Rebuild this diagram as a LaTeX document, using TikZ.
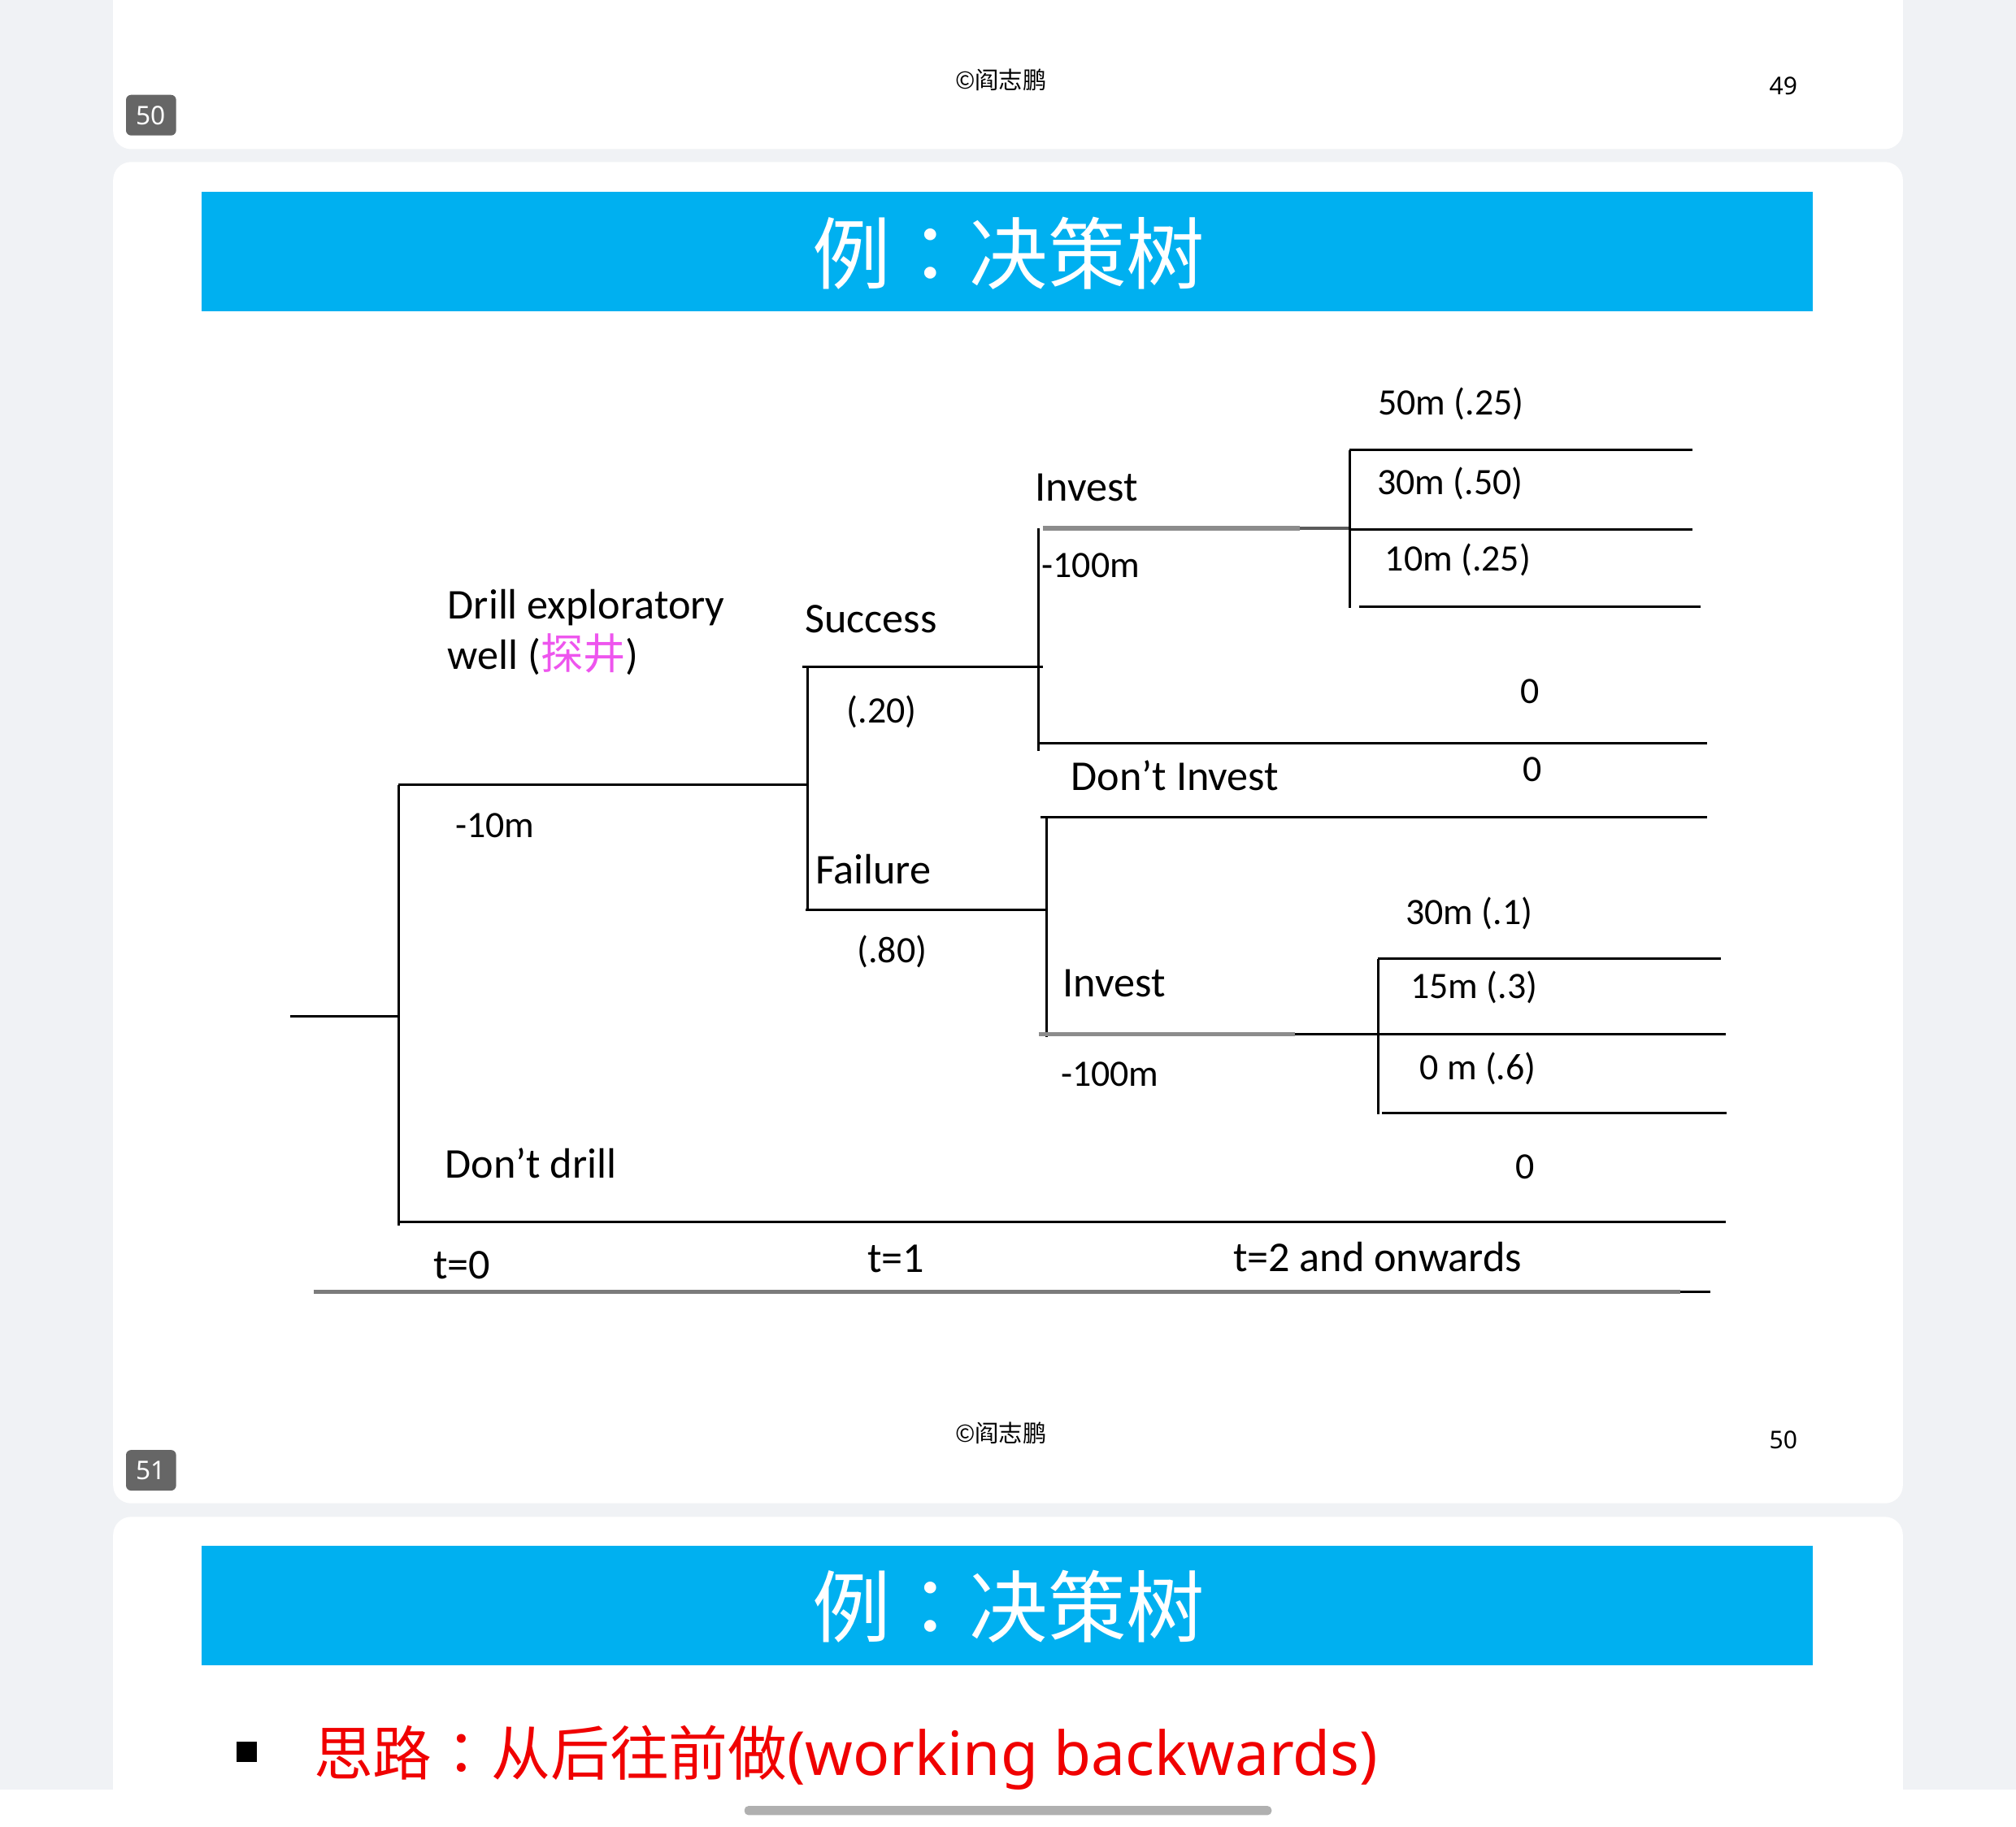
\documentclass[tikz,border=0pt]{standalone}
\usepackage{fontspec}
\setmainfont{Carlito}
\newfontfamily\cjk{Noto Sans CJK SC}
\newfontfamily\cjktc{Noto Sans CJK TC}
\newfontfamily\nsans{Noto Sans}
\definecolor{bg}{HTML}{F0F2F5}
\definecolor{titleblue}{HTML}{00B0F0}
\definecolor{badgegray}{HTML}{666666}
\definecolor{pinkcn}{HTML}{EE55EE}
\definecolor{grayline}{HTML}{8C8C8C}
\definecolor{darkseg}{HTML}{5A5A5A}
\definecolor{handlegray}{HTML}{B0B0B0}
\definecolor{redtext}{HTML}{F00000}
\newcommand{\cencolon}{\makebox[1em][c]{\cjktc ：}}
\begin{document}
\begin{tikzpicture}[x=1pt,y=-1pt,
  lbl/.style={inner sep=0pt, anchor=base west, font=\fontsize{33}{39}\selectfont},
  num/.style={inner sep=0pt, anchor=base west, font=\fontsize{29}{34}\selectfont},
  zero/.style={inner sep=0pt, anchor=base, font=\fontsize{29}{34}\selectfont},
  branch/.style={line width=1.9pt, black},
  grayseg/.style={line width=3.6pt, grayline},
  darkpart/.style={line width=2.6pt, darkseg},
  card/.style={fill=white, rounded corners=14pt},
  titlebar/.style={fill=titleblue},
  titletext/.style={text=white, inner sep=0pt, font=\cjk\fontsize{61}{70}\selectfont},
  footer/.style={inner sep=0pt, font=\cjk\fontsize{18.5}{20}\selectfont},
  pagenum/.style={inner sep=0pt, font=\nsans\fontsize{19}{21}\selectfont},
  badge/.style={fill=badgegray, rounded corners=4pt, minimum width=39pt, minimum height=31.6pt, inner sep=0pt, text=white, font=\nsans\fontsize{20}{22}\selectfont}]
\useasboundingbox (0,0) rectangle (1568,1421);
\fill[bg] (0,0) rectangle (1568,1421);
% cards
\fill[card] (88,-30) rectangle (1480,116);
\fill[card] (88,126) rectangle (1480,1169.5);
\fill[card] (88,1180) rectangle (1480,1460);
% card 1 footer
\node[footer] (foot1) at (778.5,62) {©阎志鹏};
\node[pagenum] (pn49) at (1387,67) {49};
\node[badge] (b50) at (117.5,89.6) {50};
% card 2 title
\fill[titlebar] (157,149.2) rectangle (1410,242);
\node[titletext] (title1) at (784.5,197) {例\cencolon 决策树};
% card 2 footer
\node[footer] (foot2) at (778.5,1115) {©阎志鹏};
\node[pagenum] (pn50) at (1387,1120.5) {50};
\node[badge] (b51) at (117.5,1143.8) {51};
% card 3
\fill[titlebar] (157,1202.6) rectangle (1410,1295.4);
\node[titletext] (title2) at (784.5,1250) {例\cencolon 决策树};
\fill[black] (184,1355) rectangle (200,1370.5);
\node[inner sep=0pt, anchor=base west, text=redtext, font=\fontsize{46}{50}\selectfont] (idea) at (244,1381) {\cjk 思路\cencolon 从后往前做{\nsans\fontsize{47.3}{50}\selectfont(working backwards)}};
% bottom bar
\fill[white] (0,1392) rectangle (1568,1421);
\fill[handlegray, rounded corners=3pt] (579,1405) rectangle (989,1412);

% ---------- tree coordinates ----------
\coordinate (r0) at (226,790.8);
\coordinate (r1) at (310,790.8);
\coordinate (a1) at (310,610.5);
\coordinate (a2) at (310,953.5);
\coordinate (a3) at (628.3,610.5);
\coordinate (dd0) at (310,950.7);
\coordinate (dd1) at (1342,950.7);
\coordinate (c1) at (628.3,518.7);
\coordinate (c2) at (628.3,707.5);
\coordinate (s0) at (624,518.7);
\coordinate (s1) at (811,518.7);
\coordinate (f0) at (626.5,707.5);
\coordinate (f1) at (813.8,707.5);
\coordinate (d1t) at (807.8,411);
\coordinate (d1b) at (807.8,584);
\coordinate (i1a) at (811,411);
\coordinate (i1b) at (1011,411);
\coordinate (i1c) at (1050,411);
\coordinate (n1a) at (808,578.3);
\coordinate (n1b) at (1328,578.3);
\coordinate (e1t) at (1049.8,350);
\coordinate (e1b) at (1049.8,473);
\coordinate (o1b) at (1316.4,350);
\coordinate (o2a) at (1049.8,412);
\coordinate (o2b) at (1316.4,412);
\coordinate (o3a) at (1057,472);
\coordinate (o3b) at (1322.5,472);
\coordinate (d2t) at (813.8,636);
\coordinate (d2b) at (813.8,807);
\coordinate (n2a) at (809.5,636);
\coordinate (n2b) at (1328,636);
\coordinate (i2a) at (808,804.5);
\coordinate (i2b) at (1007,804.5);
\coordinate (i2c) at (1071.7,804.5);
\coordinate (e2t) at (1071.7,746);
\coordinate (e2b) at (1071.7,867);
\coordinate (p1b) at (1338.4,746);
\coordinate (p2b) at (1342,804.5);
\coordinate (p3a) at (1075,866);
\coordinate (p3b) at (1343,866);
\coordinate (t0) at (244,1005);
\coordinate (t1) at (1307,1005);
\coordinate (t2) at (1330,1005);

% ---------- tree lines ----------
\draw[branch] (r0) -- (r1);
\draw[branch] (a1) -- (a2);
\draw[branch] (a1) -- (a3);
\draw[branch] (dd0) -- (dd1);
\draw[branch] (c1) -- (c2);
\draw[branch] (s0) -- (s1);
\draw[branch] (f0) -- (f1);
\draw[branch] (d1t) -- (d1b);
\draw[grayseg] (i1a) -- (i1b);
\draw[darkpart] (i1b) -- (i1c);
\draw[branch] (n1a) -- (n1b);
\draw[branch] (e1t) -- (e1b);
\draw[branch] (e1t) -- (o1b);
\draw[branch] (o2a) -- (o2b);
\draw[branch] (o3a) -- (o3b);
\draw[branch] (d2t) -- (d2b);
\draw[branch] (n2a) -- (n2b);
\draw[grayseg] (i2a) -- (i2b);
\draw[branch] (i2b) -- (i2c);
\draw[branch] (e2t) -- (e2b);
\draw[branch] (e2t) -- (p1b);
\draw[branch] (i2c) -- (p2b);
\draw[branch] (p3a) -- (p3b);
\draw[grayseg, line width=3pt, color=darkseg!80] (t0) -- (t1);
\draw[branch] (t1) -- (t2);

% ---------- labels ----------
\node[lbl] (drill1) at (348,481.5) {Drill exploratory};
\node[lbl] (drill2) at (348,520.5) {well ({\cjk\color{pinkcn}探井})};
\node[num] (m10) at (354,651.7) {-10m};
\node[lbl] (succ) at (626,492.5) {Success};
\node[num] (p20) at (658.5,562.5) {(.20)};
\node[lbl] (fail) at (634,687.5) {Failure};
\node[num] (p80) at (666.5,749) {(.80)};
\node[lbl] (dontdrill) at (346,916.5) {Don’t drill};
\node[lbl] (inv1) at (805,390) {Invest};
\node[num] (m100a) at (810,449) {-100m};
\node[num] (v50) at (1071.5,323) {50m (.25)};
\node[num] (v30) at (1071,384.5) {30m (.50)};
\node[num] (v10) at (1077,444) {10m (.25)};
\node[zero] (z1) at (1190,547) {0};
\node[lbl] (dinv) at (833,614.6) {Don’t Invest};
\node[zero] (z2) at (1192,608) {0};
\node[num] (w30) at (1093,719) {30m (.1)};
\node[lbl] (inv2) at (826.6,775.6) {Invest};
\node[num] (w15) at (1097,776.5) {15m (.3)};
\node[num] (m100b) at (825,845) {-100m};
\node[num] (w0) at (1104,840) {0 m (.6)};
\node[zero] (z3) at (1186,917) {0};
\node[lbl] (tz) at (337,995) {t=0};
\node[lbl] (to) at (674.6,989.5) {t=1};
\node[lbl] (tt) at (959,989) {t=2 and onwards};
\end{tikzpicture}
\end{document}
